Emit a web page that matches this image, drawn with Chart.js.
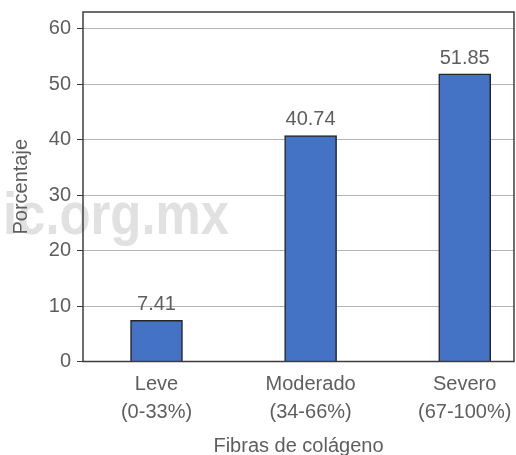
<!DOCTYPE html>
<html>
<head>
<meta charset="utf-8">
<script src="https://cdn.jsdelivr.net/npm/chart.js@4"></script>
<style>
  body { margin: 0; background: #fff; }
  #wrap { width: 516px; height: 455px; position: relative; }
</style>
</head>
<body>
<div id="wrap"><canvas id="barChart"></canvas></div>
<script>
const categories = ['Leve', 'Moderado', 'Severo'];
const ranges = ['(0-33%)', '(34-66%)', '(67-100%)'];
const percentages = [7.41, 40.74, 51.85];
const yTicks = [0, 10, 20, 30, 40, 50, 60];

const textGrey = '#5e5e5e';
const frameGrey = '#3c3c3c';
const fontFamily = "'Liberation Sans', Arial, sans-serif";

// marca de agua de fondo
const watermark = {
    id: 'watermark',
    beforeDraw(chart) {
        const ctx = chart.ctx;
        ctx.save();
        ctx.font = 'bold 60px ' + fontFamily;
        ctx.fillStyle = '#e1e1e1';
        ctx.textBaseline = 'alphabetic';
        const w = ctx.measureText('ic.org.mx').width;
        ctx.translate(3, 234);
        ctx.scale(226 / w, 1);
        ctx.fillText('ic.org.mx', 0, 0);
        ctx.restore();
    }
};

// marco completo del área de gráfico
const frame = {
    id: 'frame',
    afterDraw(chart) {
        const { ctx, chartArea: a } = chart;
        ctx.save();
        ctx.strokeStyle = frameGrey;
        ctx.lineWidth = 1.5;
        ctx.strokeRect(a.left, a.top, a.right - a.left, a.bottom - a.top);
        ctx.restore();
    }
};

// valores sobre cada barra
const valueLabels = {
    id: 'valueLabels',
    afterDatasetsDraw(chart) {
        const ctx = chart.ctx;
        ctx.save();
        ctx.font = '20px ' + fontFamily;
        ctx.fillStyle = textGrey;
        ctx.textAlign = 'center';
        ctx.textBaseline = 'alphabetic';
        chart.getDatasetMeta(0).data.forEach((bar, i) => {
            ctx.fillText(String(percentages[i]), bar.x, bar.y - 10);
        });
        ctx.restore();
    }
};

const ctx = document.getElementById('barChart').getContext('2d');
new Chart(ctx, {
    type: 'bar',
    data: {
        datasets: [{
            data: percentages.map((v, i) => ({ x: i, y: v })),
            backgroundColor: '#4472C4',
            borderColor: '#262626',
            borderWidth: 1.5,
            barThickness: 52
        }]
    },
    options: {
        responsive: true,
        maintainAspectRatio: false,
        animation: false,
        layout: {
            padding: { left: 9, right: 2, top: 12, bottom: 0 }
        },
        plugins: {
            legend: { display: false },
            tooltip: { enabled: false }
        },
        scales: {
            x: {
                type: 'linear',
                offset: false,
                min: -0.477,
                max: 2.32,
                grid: { display: false, offset: false },
                border: { display: false },
                ticks: {
                    stepSize: 1,
                    includeBounds: false,
                    autoSkip: false,
                    maxRotation: 0,
                    padding: 1,
                    color: textGrey,
                    font: { size: 20, family: fontFamily, lineHeight: 1.4 },
                    callback: v => Number.isInteger(v) && categories[v] ? [categories[v], ranges[v]] : ''
                },
                title: {
                    display: true,
                    text: 'Fibras de colágeno',
                    color: textGrey,
                    padding: { top: 0, bottom: -3 },
                    font: { size: 20, family: fontFamily }
                },
                afterFit: scale => {
                    scale.height = 93.5;
                    scale.paddingLeft = 0;
                    scale.paddingRight = 0;
                }
            },
            y: {
                min: 0,
                max: 63,
                grid: {
                    color: '#b4b4b4',
                    lineWidth: 1,
                    tickColor: frameGrey,
                    tickLength: 6
                },
                border: { display: false },
                ticks: {
                    stepSize: 10,
                    includeBounds: false,
                    padding: 6,
                    color: textGrey,
                    font: { size: 20, family: fontFamily },
                    callback: v => yTicks.includes(v) ? v : ''
                },
                title: {
                    display: true,
                    text: 'Porcentaje',
                    color: textGrey,
                    padding: 0,
                    font: { size: 20, family: fontFamily }
                },
                afterFit: scale => {
                    scale.width = 74;
                    scale.paddingTop = 0;
                    scale.paddingBottom = 0;
                }
            }
        }
    },
    plugins: [watermark, valueLabels, frame]
});
</script>
</body>
</html>
